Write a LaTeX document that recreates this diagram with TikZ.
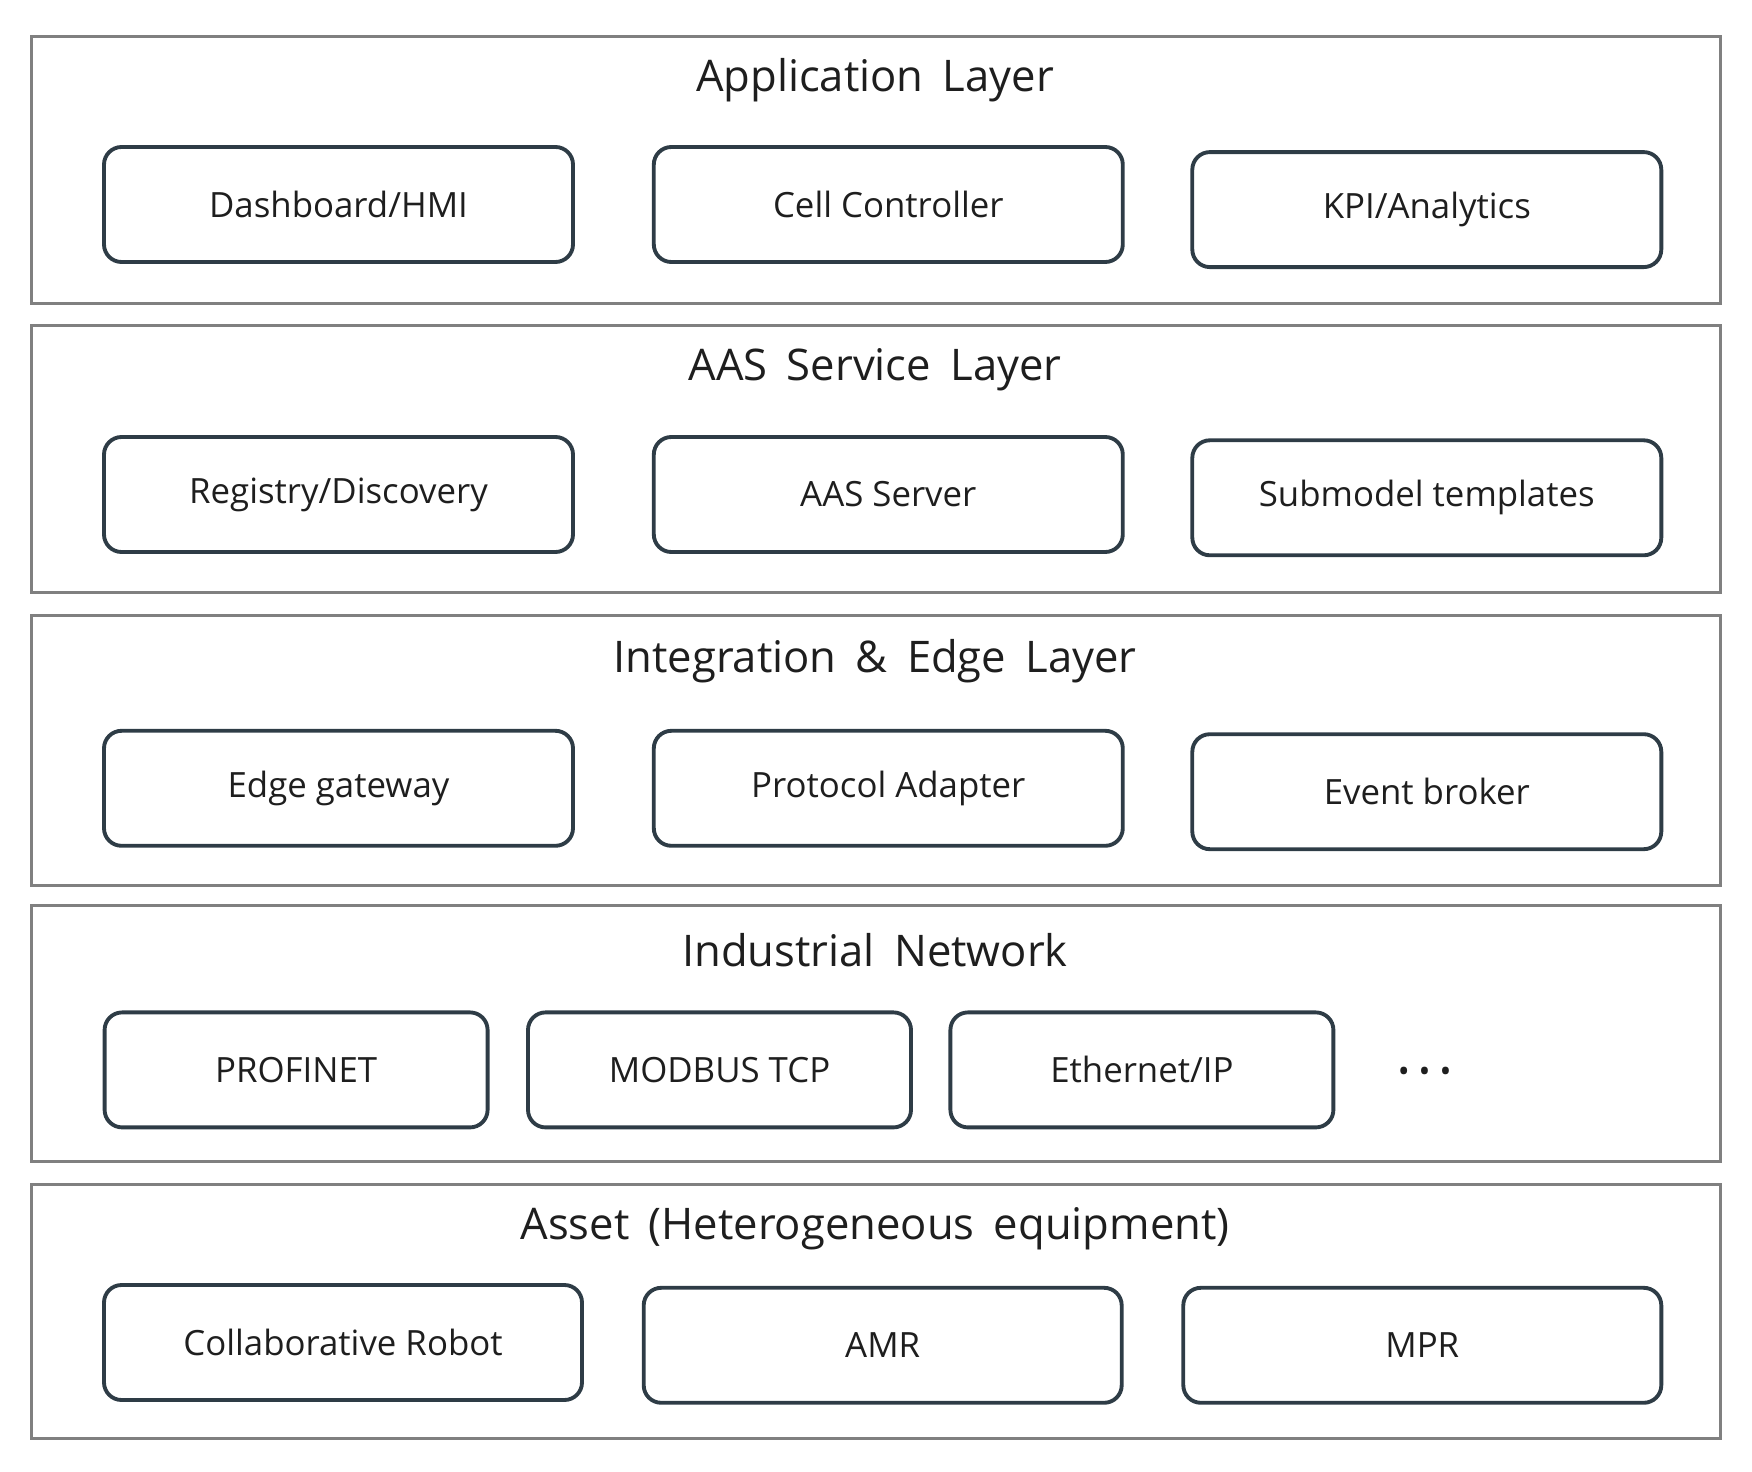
\documentclass[tikz,border=0pt]{standalone}
\usepackage{fontspec}
\setmainfont{Open Sans}
\newfontfamily\titlefont[WordSpace=1.7]{Open Sans}
\usepackage{xcolor}
\usetikzlibrary{positioning}
\definecolor{layerline}{HTML}{808080}
\definecolor{unitline}{HTML}{2E3C46}
\definecolor{ink}{HTML}{1E1E1E}
\tikzset{
  layer/.style      = {draw=layerline, line width=0.8pt, rectangle,
                       minimum width=16.89cm, inner sep=0pt},
  layertitle/.style = {font=\titlefont\fontsize{12.4}{14}\selectfont, text=ink},
  unit/.style       = {draw=unitline, line width=1.1pt, rectangle,
                       rounded corners=5pt, minimum width=4.69cm,
                       minimum height=1.15cm, align=center,
                       font=\fontsize{9.9}{12}\selectfont, text=ink},
  netunit/.style    = {unit, minimum width=3.83cm},
  assetunit/.style  = {unit, minimum width=4.78cm},
}

\begin{document}
\begin{tikzpicture}[x=1cm,y=1cm]
\useasboundingbox (0,0) rectangle (17.52,14.71);
% ---------- layers ----------
\node[layer, minimum height=2.67cm] (appL)  at (8.76,13.011) {};
\node[layer, minimum height=2.67cm] (aasL)  at (8.76,10.117) {};
\node[layer, minimum height=2.70cm] (edgeL) at (8.76,7.207) {};
\node[layer, minimum height=2.56cm] (netL)  at (8.76,4.374) {};
\node[layer, minimum height=2.54cm] (assL)  at (8.76,1.592) {};
% ---------- application layer ----------
\node[layertitle] (appT) at (8.75,13.905) {Application Layer};
\node[unit] (dash) at (3.385,12.665) {Dashboard/HMI};
\node[unit] (cell) at (8.883,12.665) {Cell Controller};
\node[unit] (kpi)  at (14.268,12.614) {KPI/Analytics};
% ---------- AAS service layer ----------
\node[layertitle] (aasT) at (8.75,11.011) {AAS Service Layer};
\node[unit] (reg)  at (3.385,9.765) {Registry/Discovery};
\node[unit] (srv)  at (8.883,9.765) {AAS Server};
\node[unit] (tmpl) at (14.268,9.732) {Submodel templates};
% ---------- integration & edge layer ----------
\node[layertitle] (edgeT) at (8.75,8.095) {Integration \& Edge Layer};
\node[unit] (gw)    at (3.385,6.827) {Edge gateway};
\node[unit] (adapt) at (8.883,6.827) {Protocol Adapter};
\node[unit] (evt)   at (14.268,6.793) {Event broker};
% ---------- industrial network ----------
\node[layertitle] (netT) at (8.75,5.212) {Industrial Network};
\node[netunit] (pn)  at (2.961,4.011) {PROFINET};
\node[netunit] (mb)  at (7.195,4.011) {MODBUS TCP};
\node[netunit] (eip) at (11.419,4.011) {Ethernet/IP};
\node[font=\fontsize{9}{10}\selectfont, text=ink] (more) at (14.246,3.96)
  {•\hspace{0.09cm}•\hspace{0.09cm}•};
% ---------- asset ----------
\node[layertitle] (assT) at (8.75,2.419) {Asset (Heterogeneous equipment)};
\node[assetunit] (cobot) at (3.430,1.285) {Collaborative Robot};
\node[assetunit] (amr)   at (8.827,1.257) {AMR};
\node[assetunit] (mpr)   at (14.223,1.257) {MPR};
\end{tikzpicture}
\end{document}
